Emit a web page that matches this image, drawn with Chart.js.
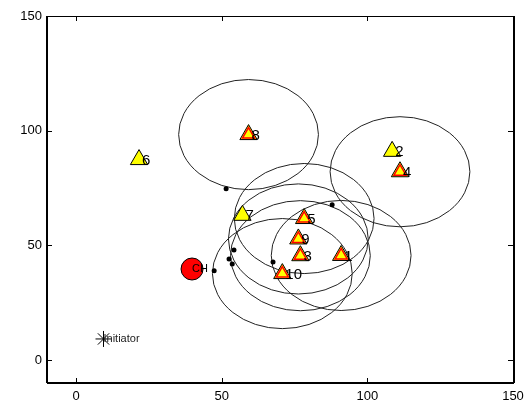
<!DOCTYPE html>
<html>
<head>
<meta charset="utf-8">
<script src="https://cdn.jsdelivr.net/npm/chart.js@4.4.0/dist/chart.umd.min.js"></script>
<style>
    body { margin: 0; background: #fff; }
    canvas { display: block; }
</style>
</head>
<body>
<canvas id="netChart" width="531" height="405"></canvas>
<script>
(function () {
    "use strict";

    // ---------------- data ----------------
    var nodeLabels = ['1', '2', '3', '4', '5', '6', '7', '8', '9', '10'];
    var nodeX = [91, 108.5, 77, 111.2, 78.3, 21.6, 57.1, 59.2, 76.3, 70.8];
    var nodeY = [45.6, 91, 45.5, 82.1, 61.7, 87.4, 63.1, 98.3, 52.8, 37.7];
    // nodes with red inner triangle + range circle
    var activeNodes = ['1', '3', '4', '5', '8', '9', '10'];
    var rangeRadius = 24;

    var dotX = [51.5, 87.9, 54.2, 52.5, 53.6, 47.4, 67.6];
    var dotY = [74.7, 67.7, 48.0, 44.1, 41.9, 38.9, 42.8];

    var chX = [39.8];
    var chY = [39.7];
    var initX = [9.4];
    var initY = [9.2];

    var xTicks = [0, 50, 100, 150];
    var yTicks = [0, 50, 100, 150];

    function toPoints(xs, ys) {
        var pts = [];
        for (var i = 0; i < xs.length; i++) {
            pts.push({ x: xs[i], y: ys[i] });
        }
        return pts;
    }

    var nodePoints = toPoints(nodeX, nodeY);
    var activePoints = [];
    for (var i = 0; i < nodeLabels.length; i++) {
        if (activeNodes.indexOf(nodeLabels[i]) >= 0) {
            activePoints.push({ x: nodeX[i], y: nodeY[i] });
        }
    }

    // circles behind the markers
    var circlePlugin = {
        id: 'circles',
        beforeDatasetsDraw: function (chart) {
            var ctx = chart.ctx;
            var sx = chart.scales.x, sy = chart.scales.y;
            ctx.save();
            ctx.strokeStyle = '#222';
            ctx.lineWidth = 1;
            for (var i = 0; i < activePoints.length; i++) {
                var p = activePoints[i];
                var cx = sx.getPixelForValue(p.x);
                var cy = sy.getPixelForValue(p.y);
                var rx = Math.abs(sx.getPixelForValue(p.x + rangeRadius) - cx);
                var ry = Math.abs(sy.getPixelForValue(p.y + rangeRadius) - cy);
                ctx.beginPath();
                ctx.ellipse(cx, cy, rx, ry, 0, 0, Math.PI * 2);
                ctx.stroke();
            }
            ctx.restore();
        }
    };

    // box, inward ticks and text labels
    var overlayPlugin = {
        id: 'overlay',
        afterDatasetsDraw: function (chart) {
            var ctx = chart.ctx;
            var a = chart.chartArea;
            var sx = chart.scales.x, sy = chart.scales.y;
            ctx.save();

            // text labels
            ctx.fillStyle = '#000';
            ctx.textBaseline = 'middle';
            ctx.textAlign = 'left';
            ctx.font = '15px "Liberation Sans", Arial, sans-serif';
            for (var i = 0; i < nodeLabels.length; i++) {
                ctx.fillText(nodeLabels[i], sx.getPixelForValue(nodeX[i]) + 3, sy.getPixelForValue(nodeY[i]) + 1);
            }
            ctx.font = '11px "Liberation Sans", Arial, sans-serif';
            ctx.fillText('CH', sx.getPixelForValue(chX[0]), sy.getPixelForValue(chY[0]));
            ctx.fillStyle = '#222';
            ctx.fillText('Initiator', sx.getPixelForValue(initX[0]), sy.getPixelForValue(initY[0]));

            // axes box
            ctx.strokeStyle = '#000';
            ctx.lineWidth = 1;
            ctx.strokeRect(a.left + 0.5, a.top + 0.5, a.right - a.left, a.bottom - a.top);
            ctx.lineWidth = 2;
            ctx.beginPath();
            ctx.moveTo(a.left, a.bottom);
            ctx.lineTo(a.right + 1, a.bottom);
            ctx.moveTo(a.left, a.top);
            ctx.lineTo(a.left, a.bottom);
            ctx.moveTo(a.right + 1, a.top);
            ctx.lineTo(a.right + 1, a.bottom);
            ctx.stroke();

            // ticks pointing in
            ctx.lineWidth = 1;
            ctx.beginPath();
            for (var t = 0; t < xTicks.length; t++) {
                var px = Math.round(sx.getPixelForValue(xTicks[t])) + 0.5;
                ctx.moveTo(px, a.bottom);
                ctx.lineTo(px, a.bottom - 5);
                ctx.moveTo(px, a.top);
                ctx.lineTo(px, a.top + 5);
            }
            for (var k = 0; k < yTicks.length; k++) {
                var py = Math.round(sy.getPixelForValue(yTicks[k])) + 0.5;
                ctx.moveTo(a.left, py);
                ctx.lineTo(a.left + 5, py);
                ctx.moveTo(a.right, py);
                ctx.lineTo(a.right - 5, py);
            }
            ctx.stroke();
            ctx.restore();
        }
    };

    var tickFont = { family: '"Liberation Sans", Arial, sans-serif', size: 13 };

    // note: lower "order" is drawn on top
    var config = {
        type: 'scatter',
        data: {
            datasets: [
                {
                    label: 'nodes',
                    data: nodePoints,
                    order: 2,
                    pointStyle: 'triangle',
                    pointRadius: 10,
                    backgroundColor: '#ffff00',
                    borderColor: '#000',
                    borderWidth: 1
                },
                {
                    label: 'active',
                    data: activePoints,
                    order: 1,
                    pointStyle: 'triangle',
                    pointRadius: 7,
                    backgroundColor: 'rgba(0,0,0,0)',
                    borderColor: '#ff0000',
                    borderWidth: 1.5
                },
                {
                    label: 'dots',
                    data: toPoints(dotX, dotY),
                    order: 3,
                    pointStyle: 'circle',
                    pointRadius: 2.5,
                    backgroundColor: '#000',
                    borderColor: '#000',
                    borderWidth: 0
                },
                {
                    label: 'CH',
                    data: toPoints(chX, chY),
                    order: 4,
                    pointStyle: 'circle',
                    pointRadius: 11,
                    backgroundColor: '#ff0000',
                    borderColor: '#000',
                    borderWidth: 1
                },
                {
                    label: 'Initiator',
                    data: toPoints(initX, initY),
                    order: 5,
                    pointStyle: 'star',
                    pointRadius: 8,
                    backgroundColor: '#000',
                    borderColor: '#000',
                    borderWidth: 1
                }
            ]
        },
        options: {
            responsive: false,
            animation: false,
            events: [],
            layout: { padding: { top: 16, right: 18, left: 0, bottom: 0 } },
            plugins: {
                legend: { display: false },
                tooltip: { enabled: false }
            },
            scales: {
                x: {
                    type: 'linear',
                    min: -10,
                    max: 150,
                    afterBuildTicks: function (scale) {
                        scale.ticks = xTicks.map(function (v) { return { value: v }; });
                    },
                    afterFit: function (scale) { scale.height = 22; },
                    grid: { display: false, drawTicks: false },
                    border: { display: false },
                    ticks: { color: '#000', font: tickFont, padding: 6, maxRotation: 0 }
                },
                y: {
                    type: 'linear',
                    min: -10,
                    max: 150,
                    afterBuildTicks: function (scale) {
                        scale.ticks = yTicks.map(function (v) { return { value: v }; });
                    },
                    afterFit: function (scale) { scale.width = 47; },
                    grid: { display: false, drawTicks: false },
                    border: { display: false },
                    ticks: { color: '#000', font: tickFont, padding: 5 }
                }
            }
        },
        plugins: [circlePlugin, overlayPlugin]
    };

    var netChart = new Chart(document.getElementById('netChart').getContext('2d'), config);
})();
</script>
</body>
</html>
